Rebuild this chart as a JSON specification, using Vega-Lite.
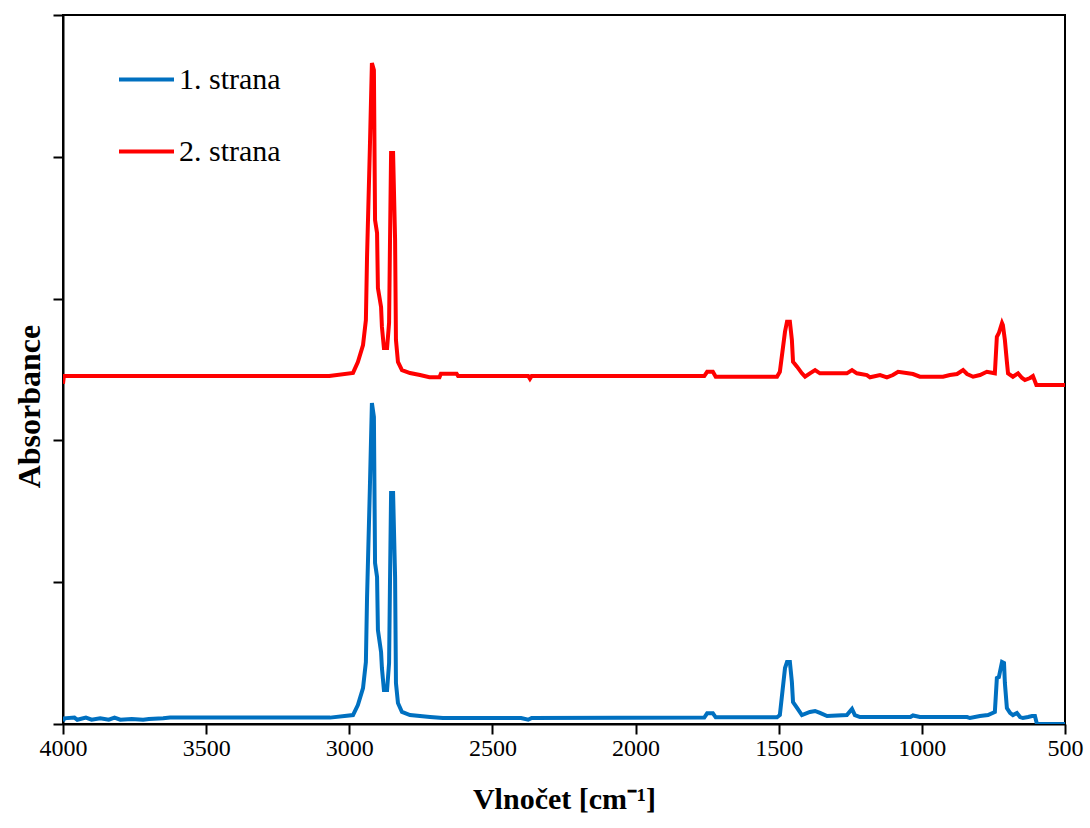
{
  "$schema": "https://vega.github.io/schema/vega-lite/v6.json",
  "width": 1002,
  "height": 709,
  "autosize": {"type": "none"},
  "padding": {"left": 63, "top": 15, "right": 25, "bottom": 104},
  "background": "white",
  "config": {
    "view": {"stroke": "black", "strokeWidth": 2},
    "font": "Liberation Serif",
    "axis": {
      "domainColor": "black", "domainWidth": 2,
      "tickColor": "black", "tickWidth": 2, "tickSize": 10,
      "grid": false, "labelFlush": false, "labelOverlap": false,
      "labelFont": "Liberation Serif", "labelColor": "black",
      "titleFont": "Liberation Serif", "titleColor": "black", "titleFontWeight": "bold"
    }
  },
  "data": {"values": [
    {"w": 4000, "a": 0.02, "s": "1. strana"},
    {"w": 3995, "a": 0.04, "s": "1. strana"},
    {"w": 3960, "a": 0.045, "s": "1. strana"},
    {"w": 3950, "a": 0.03, "s": "1. strana"},
    {"w": 3920, "a": 0.045, "s": "1. strana"},
    {"w": 3900, "a": 0.03, "s": "1. strana"},
    {"w": 3870, "a": 0.04, "s": "1. strana"},
    {"w": 3840, "a": 0.03, "s": "1. strana"},
    {"w": 3820, "a": 0.045, "s": "1. strana"},
    {"w": 3800, "a": 0.03, "s": "1. strana"},
    {"w": 3760, "a": 0.035, "s": "1. strana"},
    {"w": 3720, "a": 0.03, "s": "1. strana"},
    {"w": 3700, "a": 0.035, "s": "1. strana"},
    {"w": 3650, "a": 0.04, "s": "1. strana"},
    {"w": 3626, "a": 0.045, "s": "1. strana"},
    {"w": 3400, "a": 0.045, "s": "1. strana"},
    {"w": 3067, "a": 0.045, "s": "1. strana"},
    {"w": 2987, "a": 0.063, "s": "1. strana"},
    {"w": 2970, "a": 0.134, "s": "1. strana"},
    {"w": 2952, "a": 0.254, "s": "1. strana"},
    {"w": 2942, "a": 0.437, "s": "1. strana"},
    {"w": 2938, "a": 0.889, "s": "1. strana"},
    {"w": 2928, "a": 1.671, "s": "1. strana"},
    {"w": 2921, "a": 2.264, "s": "1. strana"},
    {"w": 2914, "a": 2.165, "s": "1. strana"},
    {"w": 2910, "a": 1.135, "s": "1. strana"},
    {"w": 2903, "a": 1.037, "s": "1. strana"},
    {"w": 2900, "a": 0.663, "s": "1. strana"},
    {"w": 2889, "a": 0.508, "s": "1. strana"},
    {"w": 2886, "a": 0.395, "s": "1. strana"},
    {"w": 2879, "a": 0.24, "s": "1. strana"},
    {"w": 2868, "a": 0.24, "s": "1. strana"},
    {"w": 2861, "a": 0.43, "s": "1. strana"},
    {"w": 2858, "a": 0.966, "s": "1. strana"},
    {"w": 2854, "a": 1.629, "s": "1. strana"},
    {"w": 2847, "a": 1.629, "s": "1. strana"},
    {"w": 2840, "a": 1.037, "s": "1. strana"},
    {"w": 2837, "a": 0.289, "s": "1. strana"},
    {"w": 2830, "a": 0.148, "s": "1. strana"},
    {"w": 2816, "a": 0.085, "s": "1. strana"},
    {"w": 2788, "a": 0.063, "s": "1. strana"},
    {"w": 2718, "a": 0.049, "s": "1. strana"},
    {"w": 2673, "a": 0.042, "s": "1. strana"},
    {"w": 2400, "a": 0.042, "s": "1. strana"},
    {"w": 2375, "a": 0.03, "s": "1. strana"},
    {"w": 2363, "a": 0.042, "s": "1. strana"},
    {"w": 1760, "a": 0.045, "s": "1. strana"},
    {"w": 1750, "a": 0.075, "s": "1. strana"},
    {"w": 1730, "a": 0.075, "s": "1. strana"},
    {"w": 1720, "a": 0.047, "s": "1. strana"},
    {"w": 1506, "a": 0.047, "s": "1. strana"},
    {"w": 1496, "a": 0.063, "s": "1. strana"},
    {"w": 1478, "a": 0.395, "s": "1. strana"},
    {"w": 1471, "a": 0.437, "s": "1. strana"},
    {"w": 1461, "a": 0.437, "s": "1. strana"},
    {"w": 1454, "a": 0.296, "s": "1. strana"},
    {"w": 1450, "a": 0.155, "s": "1. strana"},
    {"w": 1436, "a": 0.113, "s": "1. strana"},
    {"w": 1419, "a": 0.063, "s": "1. strana"},
    {"w": 1391, "a": 0.085, "s": "1. strana"},
    {"w": 1373, "a": 0.092, "s": "1. strana"},
    {"w": 1356, "a": 0.078, "s": "1. strana"},
    {"w": 1331, "a": 0.056, "s": "1. strana"},
    {"w": 1262, "a": 0.063, "s": "1. strana"},
    {"w": 1244, "a": 0.106, "s": "1. strana"},
    {"w": 1234, "a": 0.063, "s": "1. strana"},
    {"w": 1216, "a": 0.049, "s": "1. strana"},
    {"w": 1040, "a": 0.049, "s": "1. strana"},
    {"w": 1031, "a": 0.06, "s": "1. strana"},
    {"w": 1007, "a": 0.049, "s": "1. strana"},
    {"w": 842, "a": 0.049, "s": "1. strana"},
    {"w": 832, "a": 0.042, "s": "1. strana"},
    {"w": 797, "a": 0.056, "s": "1. strana"},
    {"w": 769, "a": 0.063, "s": "1. strana"},
    {"w": 745, "a": 0.085, "s": "1. strana"},
    {"w": 738, "a": 0.324, "s": "1. strana"},
    {"w": 731, "a": 0.331, "s": "1. strana"},
    {"w": 720, "a": 0.437, "s": "1. strana"},
    {"w": 713, "a": 0.43, "s": "1. strana"},
    {"w": 710, "a": 0.289, "s": "1. strana"},
    {"w": 703, "a": 0.113, "s": "1. strana"},
    {"w": 692, "a": 0.078, "s": "1. strana"},
    {"w": 682, "a": 0.063, "s": "1. strana"},
    {"w": 668, "a": 0.078, "s": "1. strana"},
    {"w": 657, "a": 0.049, "s": "1. strana"},
    {"w": 647, "a": 0.042, "s": "1. strana"},
    {"w": 629, "a": 0.049, "s": "1. strana"},
    {"w": 615, "a": 0.056, "s": "1. strana"},
    {"w": 605, "a": 0.056, "s": "1. strana"},
    {"w": 598, "a": 0.0, "s": "1. strana"},
    {"w": 500, "a": 0.0, "s": "1. strana"},

    {"w": 4000, "a": 2.4, "s": "2. strana"},
    {"w": 3997, "a": 2.454, "s": "2. strana"},
    {"w": 3070, "a": 2.454, "s": "2. strana"},
    {"w": 2987, "a": 2.476, "s": "2. strana"},
    {"w": 2970, "a": 2.553, "s": "2. strana"},
    {"w": 2952, "a": 2.673, "s": "2. strana"},
    {"w": 2942, "a": 2.849, "s": "2. strana"},
    {"w": 2938, "a": 3.293, "s": "2. strana"},
    {"w": 2928, "a": 4.069, "s": "2. strana"},
    {"w": 2921, "a": 4.661, "s": "2. strana"},
    {"w": 2914, "a": 4.612, "s": "2. strana"},
    {"w": 2910, "a": 3.554, "s": "2. strana"},
    {"w": 2903, "a": 3.463, "s": "2. strana"},
    {"w": 2900, "a": 3.075, "s": "2. strana"},
    {"w": 2889, "a": 2.941, "s": "2. strana"},
    {"w": 2886, "a": 2.8, "s": "2. strana"},
    {"w": 2879, "a": 2.652, "s": "2. strana"},
    {"w": 2868, "a": 2.652, "s": "2. strana"},
    {"w": 2861, "a": 2.828, "s": "2. strana"},
    {"w": 2858, "a": 3.364, "s": "2. strana"},
    {"w": 2854, "a": 4.027, "s": "2. strana"},
    {"w": 2847, "a": 4.027, "s": "2. strana"},
    {"w": 2840, "a": 3.413, "s": "2. strana"},
    {"w": 2837, "a": 2.708, "s": "2. strana"},
    {"w": 2830, "a": 2.553, "s": "2. strana"},
    {"w": 2816, "a": 2.496, "s": "2. strana"},
    {"w": 2788, "a": 2.475, "s": "2. strana"},
    {"w": 2753, "a": 2.461, "s": "2. strana"},
    {"w": 2720, "a": 2.445, "s": "2. strana"},
    {"w": 2685, "a": 2.445, "s": "2. strana"},
    {"w": 2680, "a": 2.47, "s": "2. strana"},
    {"w": 2625, "a": 2.47, "s": "2. strana"},
    {"w": 2620, "a": 2.454, "s": "2. strana"},
    {"w": 2375, "a": 2.454, "s": "2. strana"},
    {"w": 2369, "a": 2.435, "s": "2. strana"},
    {"w": 2363, "a": 2.454, "s": "2. strana"},
    {"w": 1760, "a": 2.454, "s": "2. strana"},
    {"w": 1750, "a": 2.484, "s": "2. strana"},
    {"w": 1730, "a": 2.484, "s": "2. strana"},
    {"w": 1720, "a": 2.449, "s": "2. strana"},
    {"w": 1506, "a": 2.449, "s": "2. strana"},
    {"w": 1496, "a": 2.484, "s": "2. strana"},
    {"w": 1478, "a": 2.767, "s": "2. strana"},
    {"w": 1471, "a": 2.837, "s": "2. strana"},
    {"w": 1461, "a": 2.837, "s": "2. strana"},
    {"w": 1454, "a": 2.708, "s": "2. strana"},
    {"w": 1450, "a": 2.555, "s": "2. strana"},
    {"w": 1436, "a": 2.52, "s": "2. strana"},
    {"w": 1419, "a": 2.473, "s": "2. strana"},
    {"w": 1408, "a": 2.449, "s": "2. strana"},
    {"w": 1391, "a": 2.473, "s": "2. strana"},
    {"w": 1373, "a": 2.496, "s": "2. strana"},
    {"w": 1356, "a": 2.473, "s": "2. strana"},
    {"w": 1262, "a": 2.473, "s": "2. strana"},
    {"w": 1244, "a": 2.496, "s": "2. strana"},
    {"w": 1227, "a": 2.473, "s": "2. strana"},
    {"w": 1192, "a": 2.461, "s": "2. strana"},
    {"w": 1181, "a": 2.445, "s": "2. strana"},
    {"w": 1146, "a": 2.461, "s": "2. strana"},
    {"w": 1122, "a": 2.445, "s": "2. strana"},
    {"w": 1101, "a": 2.461, "s": "2. strana"},
    {"w": 1083, "a": 2.484, "s": "2. strana"},
    {"w": 1031, "a": 2.468, "s": "2. strana"},
    {"w": 1007, "a": 2.449, "s": "2. strana"},
    {"w": 926, "a": 2.449, "s": "2. strana"},
    {"w": 902, "a": 2.461, "s": "2. strana"},
    {"w": 877, "a": 2.468, "s": "2. strana"},
    {"w": 856, "a": 2.496, "s": "2. strana"},
    {"w": 842, "a": 2.468, "s": "2. strana"},
    {"w": 821, "a": 2.449, "s": "2. strana"},
    {"w": 797, "a": 2.461, "s": "2. strana"},
    {"w": 773, "a": 2.484, "s": "2. strana"},
    {"w": 745, "a": 2.473, "s": "2. strana"},
    {"w": 738, "a": 2.731, "s": "2. strana"},
    {"w": 731, "a": 2.757, "s": "2. strana"},
    {"w": 720, "a": 2.828, "s": "2. strana"},
    {"w": 717, "a": 2.814, "s": "2. strana"},
    {"w": 710, "a": 2.708, "s": "2. strana"},
    {"w": 703, "a": 2.555, "s": "2. strana"},
    {"w": 699, "a": 2.473, "s": "2. strana"},
    {"w": 682, "a": 2.449, "s": "2. strana"},
    {"w": 664, "a": 2.473, "s": "2. strana"},
    {"w": 650, "a": 2.44, "s": "2. strana"},
    {"w": 640, "a": 2.426, "s": "2. strana"},
    {"w": 622, "a": 2.44, "s": "2. strana"},
    {"w": 612, "a": 2.454, "s": "2. strana"},
    {"w": 600, "a": 2.391, "s": "2. strana"},
    {"w": 500, "a": 2.391, "s": "2. strana"}
  ]},
  "mark": {"type": "line", "strokeWidth": 4, "interpolate": "linear", "clip": true},
  "encoding": {
    "x": {
      "field": "w", "type": "quantitative",
      "scale": {"domain": [4000, 500], "nice": false, "zero": false},
      "axis": {
        "values": [4000, 3500, 3000, 2500, 2000, 1500, 1000, 500],
        "format": "d",
        "labelFontSize": 24, "labelPadding": 2,
        "title": "Vlnočet [cm⁻¹]", "titleFontSize": 30, "titlePadding": 24
      }
    },
    "y": {
      "field": "a", "type": "quantitative",
      "scale": {"domain": [0, 5], "nice": false, "zero": false},
      "axis": {
        "values": [0, 1, 2, 3, 4, 5],
        "labels": false,
        "title": "Absorbance", "titleFontSize": 32, "titlePadding": 6, "titleY": 391
      }
    },
    "color": {
      "field": "s", "type": "nominal",
      "scale": {"domain": ["1. strana", "2. strana"], "range": ["#0070C0", "#FF0000"]},
      "legend": {
        "title": null, "orient": "none", "legendX": 54, "legendY": 35,
        "symbolType": "stroke", "symbolSize": 3025, "symbolStrokeWidth": 4,
        "labelFont": "Liberation Serif", "labelFontSize": 30, "labelColor": "black",
        "labelOffset": 3, "rowPadding": 27, "padding": 0
      }
    },
    "order": {"field": "w", "type": "quantitative", "sort": "descending"}
  }
}
